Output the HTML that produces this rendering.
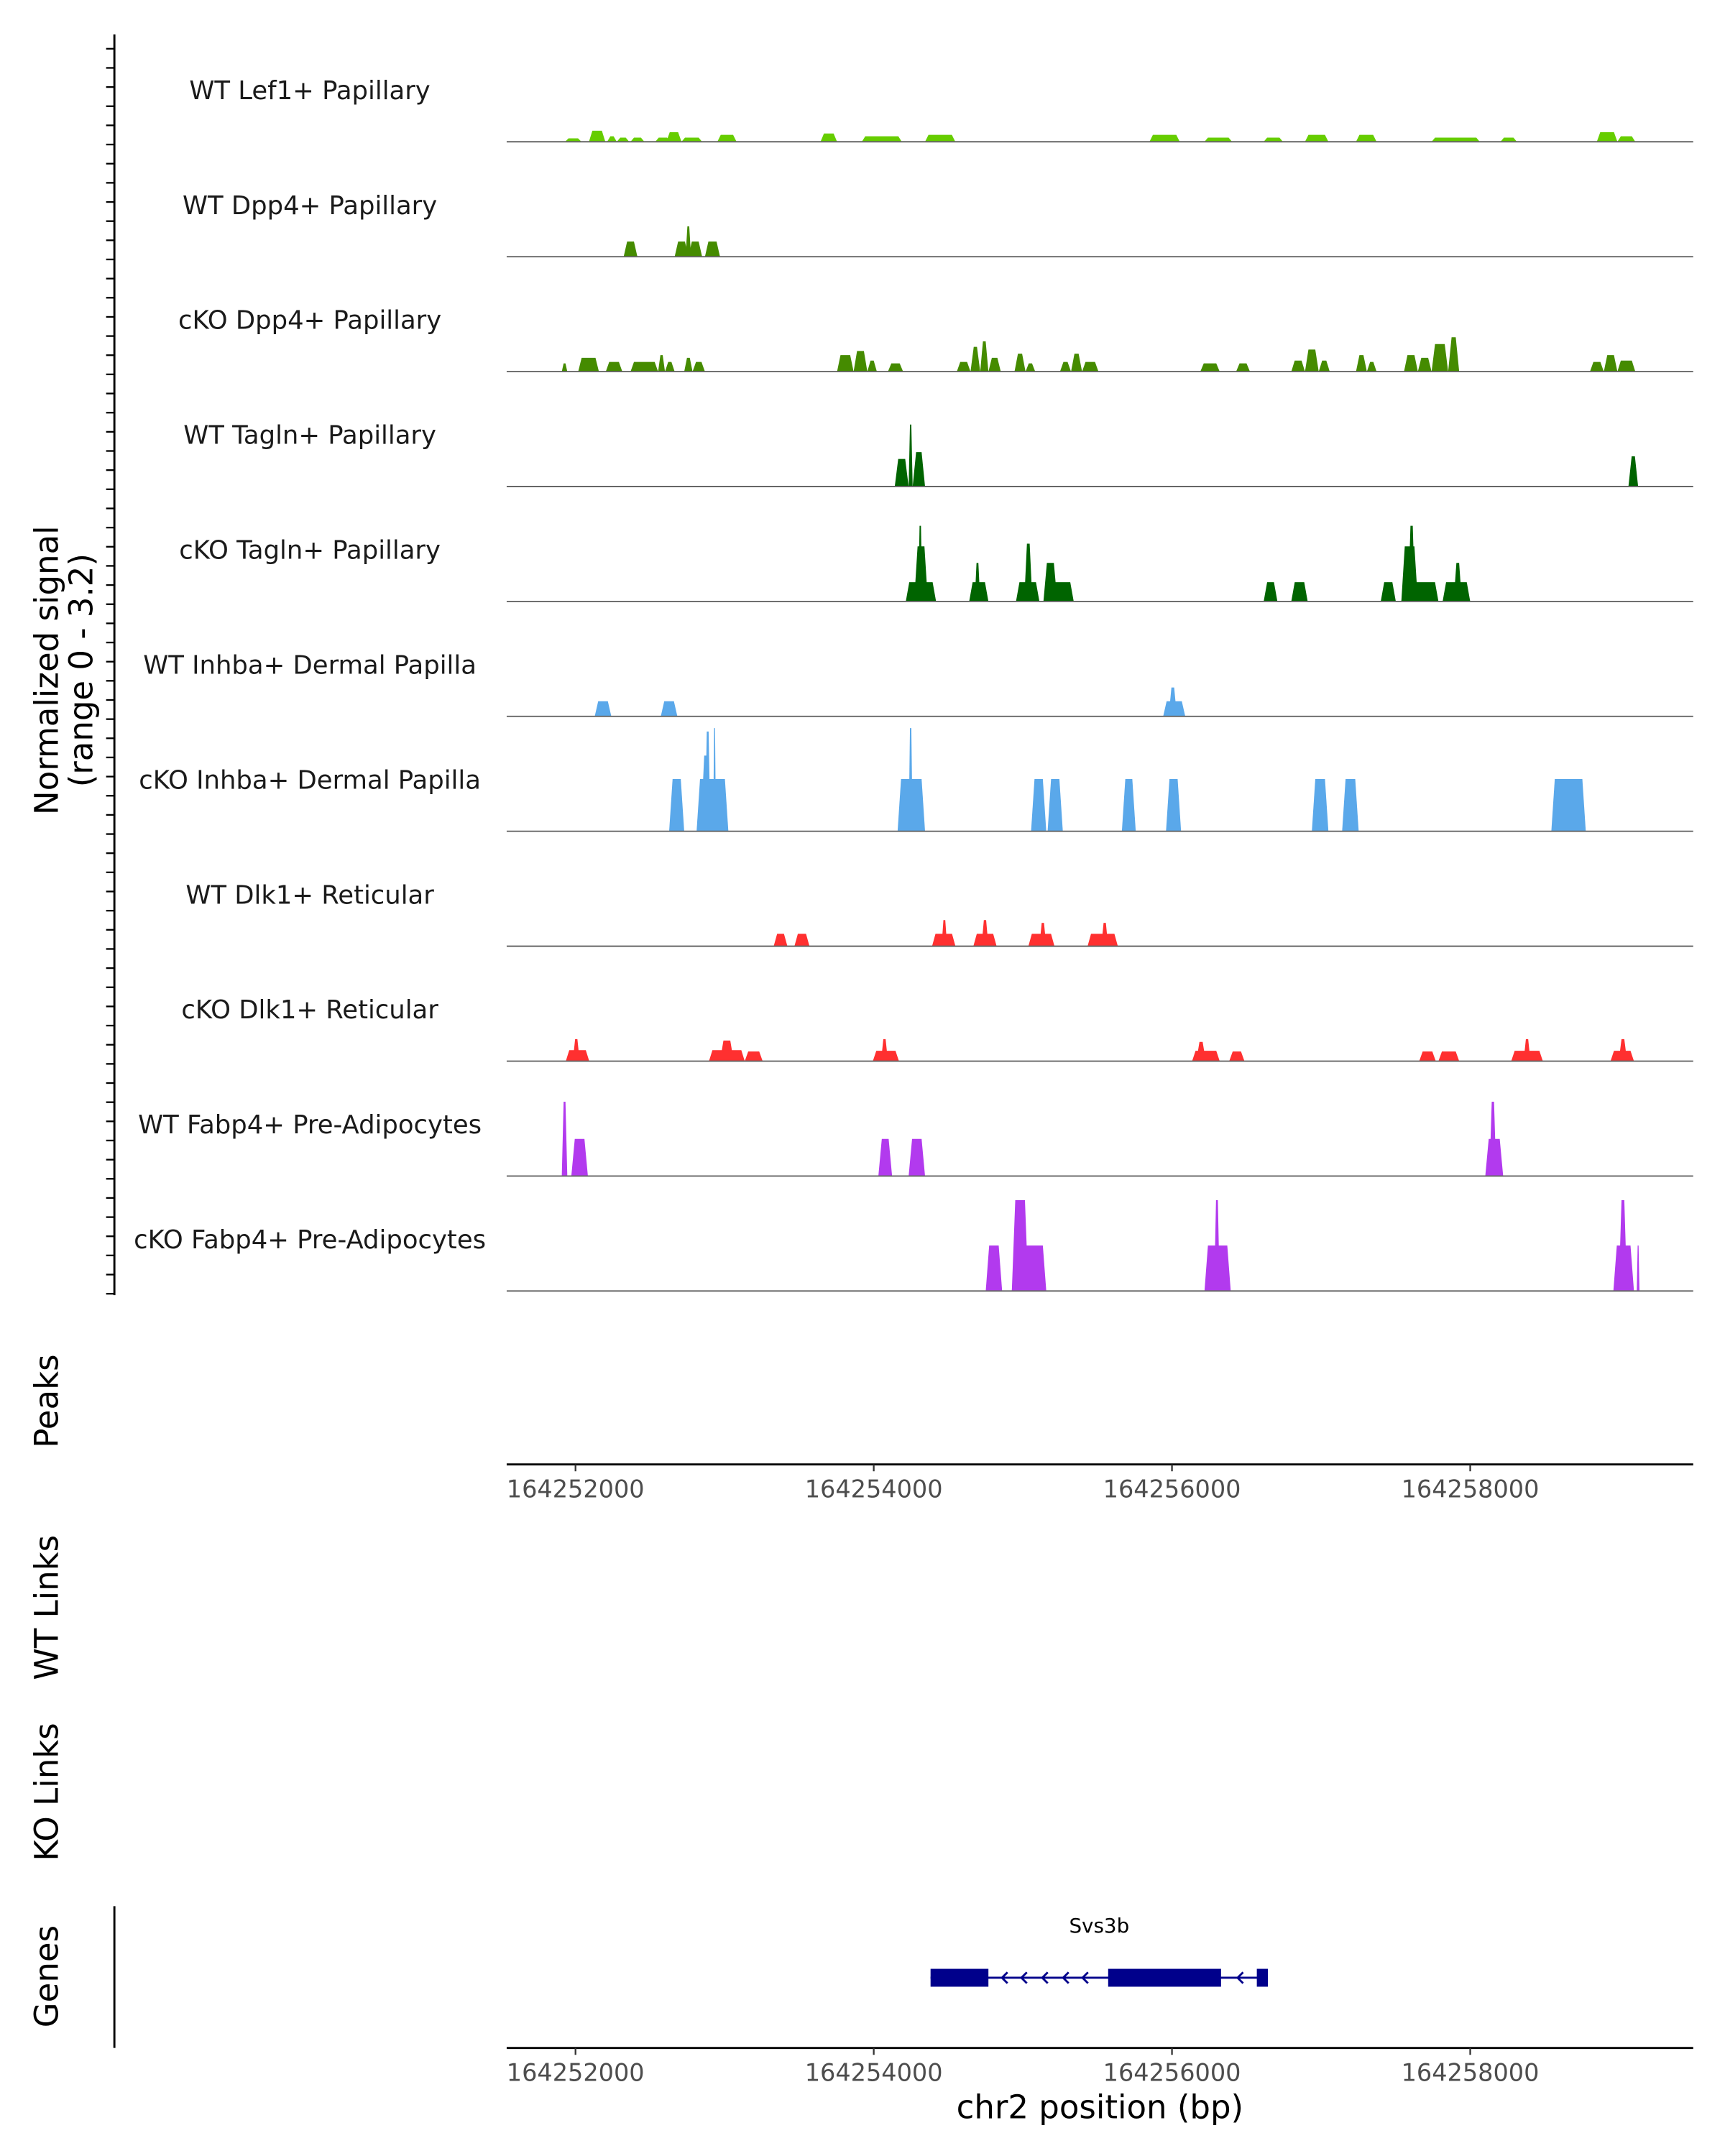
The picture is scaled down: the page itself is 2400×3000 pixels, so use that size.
<!DOCTYPE html>
<html><head><meta charset="utf-8"><style>
html,body{margin:0;padding:0;background:#fff}
svg{display:block}
text{font-family:"DejaVu Sans","Liberation Sans",sans-serif}
</style></head><body>
<svg id="chart" xmlns="http://www.w3.org/2000/svg" width="2400" height="3000" viewBox="0 0 1253 1566.5">
<rect width="1253" height="1566.5" fill="#fff"/>
<g id="tracks"></g>
<line x1="83" y1="25" x2="83" y2="941" stroke="#000" stroke-width="1.5"/>
<g id="yticks"></g>
<text transform="translate(42,487) rotate(-90)" text-anchor="middle" font-size="23.5" fill="#000">Normalized signal</text>
<text transform="translate(67,487) rotate(-90)" text-anchor="middle" font-size="23.5" fill="#000">(range 0 - 3.2)</text>
<text transform="translate(42,1018) rotate(-90)" text-anchor="middle" font-size="23.5">Peaks</text>
<text transform="translate(42,1168) rotate(-90)" text-anchor="middle" font-size="23.5">WT Links</text>
<text transform="translate(42,1302) rotate(-90)" text-anchor="middle" font-size="23.5">KO Links</text>
<text transform="translate(42,1436) rotate(-90)" text-anchor="middle" font-size="23.5">Genes</text>
<line x1="368" y1="1064" x2="1230" y2="1064" stroke="#000" stroke-width="1.5"/>
<g id="xaxis1"></g>
<line x1="83" y1="1385" x2="83" y2="1488" stroke="#000" stroke-width="1.5"/>
<line x1="368" y1="1488" x2="1230" y2="1488" stroke="#000" stroke-width="1.5"/>
<g id="xaxis2"></g>
<g id="gene"></g>
<text x="799" y="1539" text-anchor="middle" font-size="23.5">chr2 position (bp)</text>
</svg>
<script>
const ORIGIN = 164250000;
const trackNames = ["WT Lef1+ Papillary","WT Dpp4+ Papillary","cKO Dpp4+ Papillary","WT Tagln+ Papillary","cKO Tagln+ Papillary","WT Inhba+ Dermal Papilla","cKO Inhba+ Dermal Papilla","WT Dlk1+ Reticular","cKO Dlk1+ Reticular","WT Fabp4+ Pre-Adipocytes","cKO Fabp4+ Pre-Adipocytes"];
const trackColors = ["#66cd00","#458b00","#458b00","#006400","#006400","#5aa8ea","#5aa8ea","#ff3030","#ff3030","#b23aee","#b23aee"];
// blocks: [start offset bp, end offset bp, signal]
const wtLef1 = [[1930,2040,0.1],[2090,2200,0.32],[2212,2277,0.16],[2277,2360,0.12],[2369,2462,0.12],[2535,2637,0.12],[2609,2711,0.28],[2711,2849,0.12],[2951,3080,0.2],[3643,3754,0.24],[3920,4188,0.16],[4344,4547,0.2],[5849,6052,0.2],[6218,6403,0.12],[6615,6744,0.12],[6892,7049,0.2],[7234,7372,0.2],[7741,8064,0.12],[8203,8313,0.12],[8849,8987,0.28],[8987,9107,0.16]];
const wtDpp4 = [[2323,2415,0.44],[2665,2757,0.44],[2738,2775,0.88],[2757,2849,0.44],[2868,2969,0.44]];
const koDpp4 = [[1908,1945,0.24],[2018,2157,0.4],[2203,2314,0.28],[2369,2554,0.28],[2554,2600,0.48],[2600,2665,0.28],[2729,2785,0.4],[2785,2868,0.28],[3754,3865,0.48],[3865,3957,0.6],[3957,4021,0.32],[4095,4197,0.24],[4557,4649,0.28],[4649,4714,0.72],[4714,4769,0.88],[4769,4852,0.4],[4944,5018,0.52],[5018,5083,0.24],[5249,5323,0.28],[5323,5397,0.52],[5397,5507,0.28],[6190,6320,0.24],[6430,6523,0.24],[6800,6892,0.32],[6892,6984,0.64],[6984,7058,0.32],[7234,7307,0.48],[7307,7372,0.28],[7556,7649,0.48],[7649,7741,0.4],[7741,7852,0.8],[7852,7926,1.0],[8803,8896,0.28],[8896,8987,0.48],[8987,9107,0.32]];
const wtTagln = [[4141,4234,0.8],[4234,4261,1.8],[4261,4344,1.0],[9061,9126,0.88]];
const koTagln = [[4215,4418,0.56],[4271,4363,1.6],[4298,4326,2.2],[4640,4769,0.56],[4677,4714,1.12],[4954,5111,0.56],[5009,5064,1.68],[5138,5341,0.56],[5138,5231,1.12],[6615,6707,0.56],[6800,6910,0.56],[7400,7501,0.56],[7538,7787,0.56],[7538,7649,1.6],[7584,7630,2.2],[7815,8000,0.56],[7889,7944,1.12]];
const wtInhba = [[2129,2240,0.44],[2572,2683,0.44],[5941,6089,0.44],[5978,6033,0.84]];
const koInhba = [[2628,2729,1.52],[2812,3025,1.52],[2840,2914,2.2],[2868,2905,2.9],[2923,2942,3.0],[4160,4344,1.52],[4234,4261,3.0],[5055,5157,1.52],[5166,5268,1.52],[5664,5757,1.52],[5960,6061,1.52],[6938,7049,1.52],[7141,7252,1.52],[8544,8775,1.52]];
const wtDlk1 = [[3329,3421,0.36],[3468,3569,0.36],[4391,4548,0.36],[4455,4492,0.76],[4668,4824,0.36],[4723,4769,0.76],[5037,5212,0.36],[5111,5157,0.68],[5434,5637,0.36],[5526,5572,0.68]];
const koDlk1 = [[1935,2092,0.32],[1982,2028,0.64],[2895,3135,0.32],[2969,3061,0.6],[3135,3255,0.28],[3994,4169,0.3],[4049,4095,0.64],[6135,6320,0.3],[6163,6227,0.56],[6384,6486,0.28],[7658,7769,0.28],[7787,7926,0.28],[8275,8487,0.3],[8358,8404,0.64],[8941,9098,0.3],[8996,9052,0.64]];
const wtFabp4 = [[1908,1945,2.16],[1972,2083,1.08],[4031,4123,1.08],[4234,4344,1.08],[8101,8221,1.08],[8129,8175,2.16]];
const koFabp4 = [[4751,4861,1.32],[4926,5157,1.32],[4926,5037,2.64],[6218,6394,1.32],[6283,6320,2.64],[8960,9098,1.32],[8996,9052,2.64],[9117,9135,1.32]];
const trackData = [wtLef1,wtDpp4,koDpp4,wtTagln,koTagln,wtInhba,koInhba,wtDlk1,koDlk1,wtFabp4,koFabp4];
const xTicks = [164252000,164254000,164256000,164258000];
const geneExons = [[4381,4769],[5572,6329],[6569,6643]];
const geneSpan = [4381,6643];
const geneArrows = [4860,4990,5130,5270,5400,6440];

const NS = "http://www.w3.org/2000/svg";
const X0 = 368, X1 = 1230, BP_REF = 164252000, PX_REF = 418, PX_PER_BP = 650/6000;
function xScale(bp){ return PX_REF + (bp - BP_REF) * PX_PER_BP; }
function xOff(off){ return xScale(ORIGIN + off); }
const TOP0 = 20, TRACK_H = 83.5, PX_PER_UNIT = 25;
function baseY(i){ return TOP0 + TRACK_H*(i+1) - 0.5; }
function yScale(i, v){ return baseY(i) - v*PX_PER_UNIT; }
function mk(tag, attrs, parent){ const e=document.createElementNS(NS,tag); for(const k in attrs) e.setAttribute(k,attrs[k]); parent.appendChild(e); return e; }

const tracks = document.getElementById('tracks');
trackNames.forEach((name,i)=>{
  const g = mk('g',{},tracks);
  
  
  const lbl = mk('text',{x:225,y:baseY(i)-31,'text-anchor':'middle','font-size':'18.5',fill:'#1a1a1a'},g);
  lbl.textContent = name;
  
  
  trackData[i].forEach(b=>{
    const a = xOff(b[0]), c = xOff(b[1]), top = yScale(i,b[2]), by = baseY(i);
    const s = Math.min(2.5, (c-a)/3);
    const p = mk('polygon',{points:`${a},${by} ${a+s},${top} ${c-s},${top} ${c},${by}`,fill:trackColors[i]},g);
    
    
  });
  const ln = mk('line',{x1:X0,x2:X1,y1:baseY(i),y2:baseY(i),stroke:'#666','stroke-width':1},g);
  
  
});
const yt = document.getElementById('yticks');
for(let k=0;k<=66;k++){
  const y = 940 - k*TRACK_H/6;
  if(y<28) break;
  const t = mk('line',{x1:77,x2:83,y1:y,y2:y,stroke:'#000','stroke-width':1.2},yt);
  
  
}
function drawAxis(id, ly){
  const g = document.getElementById(id);
  xTicks.forEach(v=>{
    const x = xScale(v);
    const t = mk('line',{x1:x,x2:x,y1:ly,y2:ly+5,stroke:'#333','stroke-width':1.2},g);
    
    
    const tx = mk('text',{x:x,y:ly+24,'text-anchor':'middle','font-size':'17.5',fill:'#4d4d4d'},g);
    tx.textContent = v;
    
    
  });
}
drawAxis('xaxis1',1064);
drawAxis('xaxis2',1488);
const gg = document.getElementById('gene');
const gy = 1437;
const gl = mk('line',{x1:xOff(geneSpan[0]),x2:xOff(geneSpan[1]),y1:gy,y2:gy,stroke:'#00008b','stroke-width':1.5},gg);


geneExons.forEach(e=>{
  const r = mk('rect',{x:xOff(e[0]),y:gy-6.5,width:xOff(e[1])-xOff(e[0]),height:13,fill:'#00008b'},gg);
  
  
});
geneArrows.forEach(a=>{
  const x = xOff(a);
  const p = mk('polyline',{points:`${x+4},${gy-4} ${x},${gy} ${x+4},${gy+4}`,fill:'none',stroke:'#00008b','stroke-width':1.5},gg);
  
  
});
const gt = mk('text',{x:(xOff(geneSpan[0])+xOff(geneSpan[1]))/2,y:1404,'text-anchor':'middle','font-size':'14.5',fill:'#000'},gg);
gt.textContent = 'Svs3b';


</script>
</body></html>
